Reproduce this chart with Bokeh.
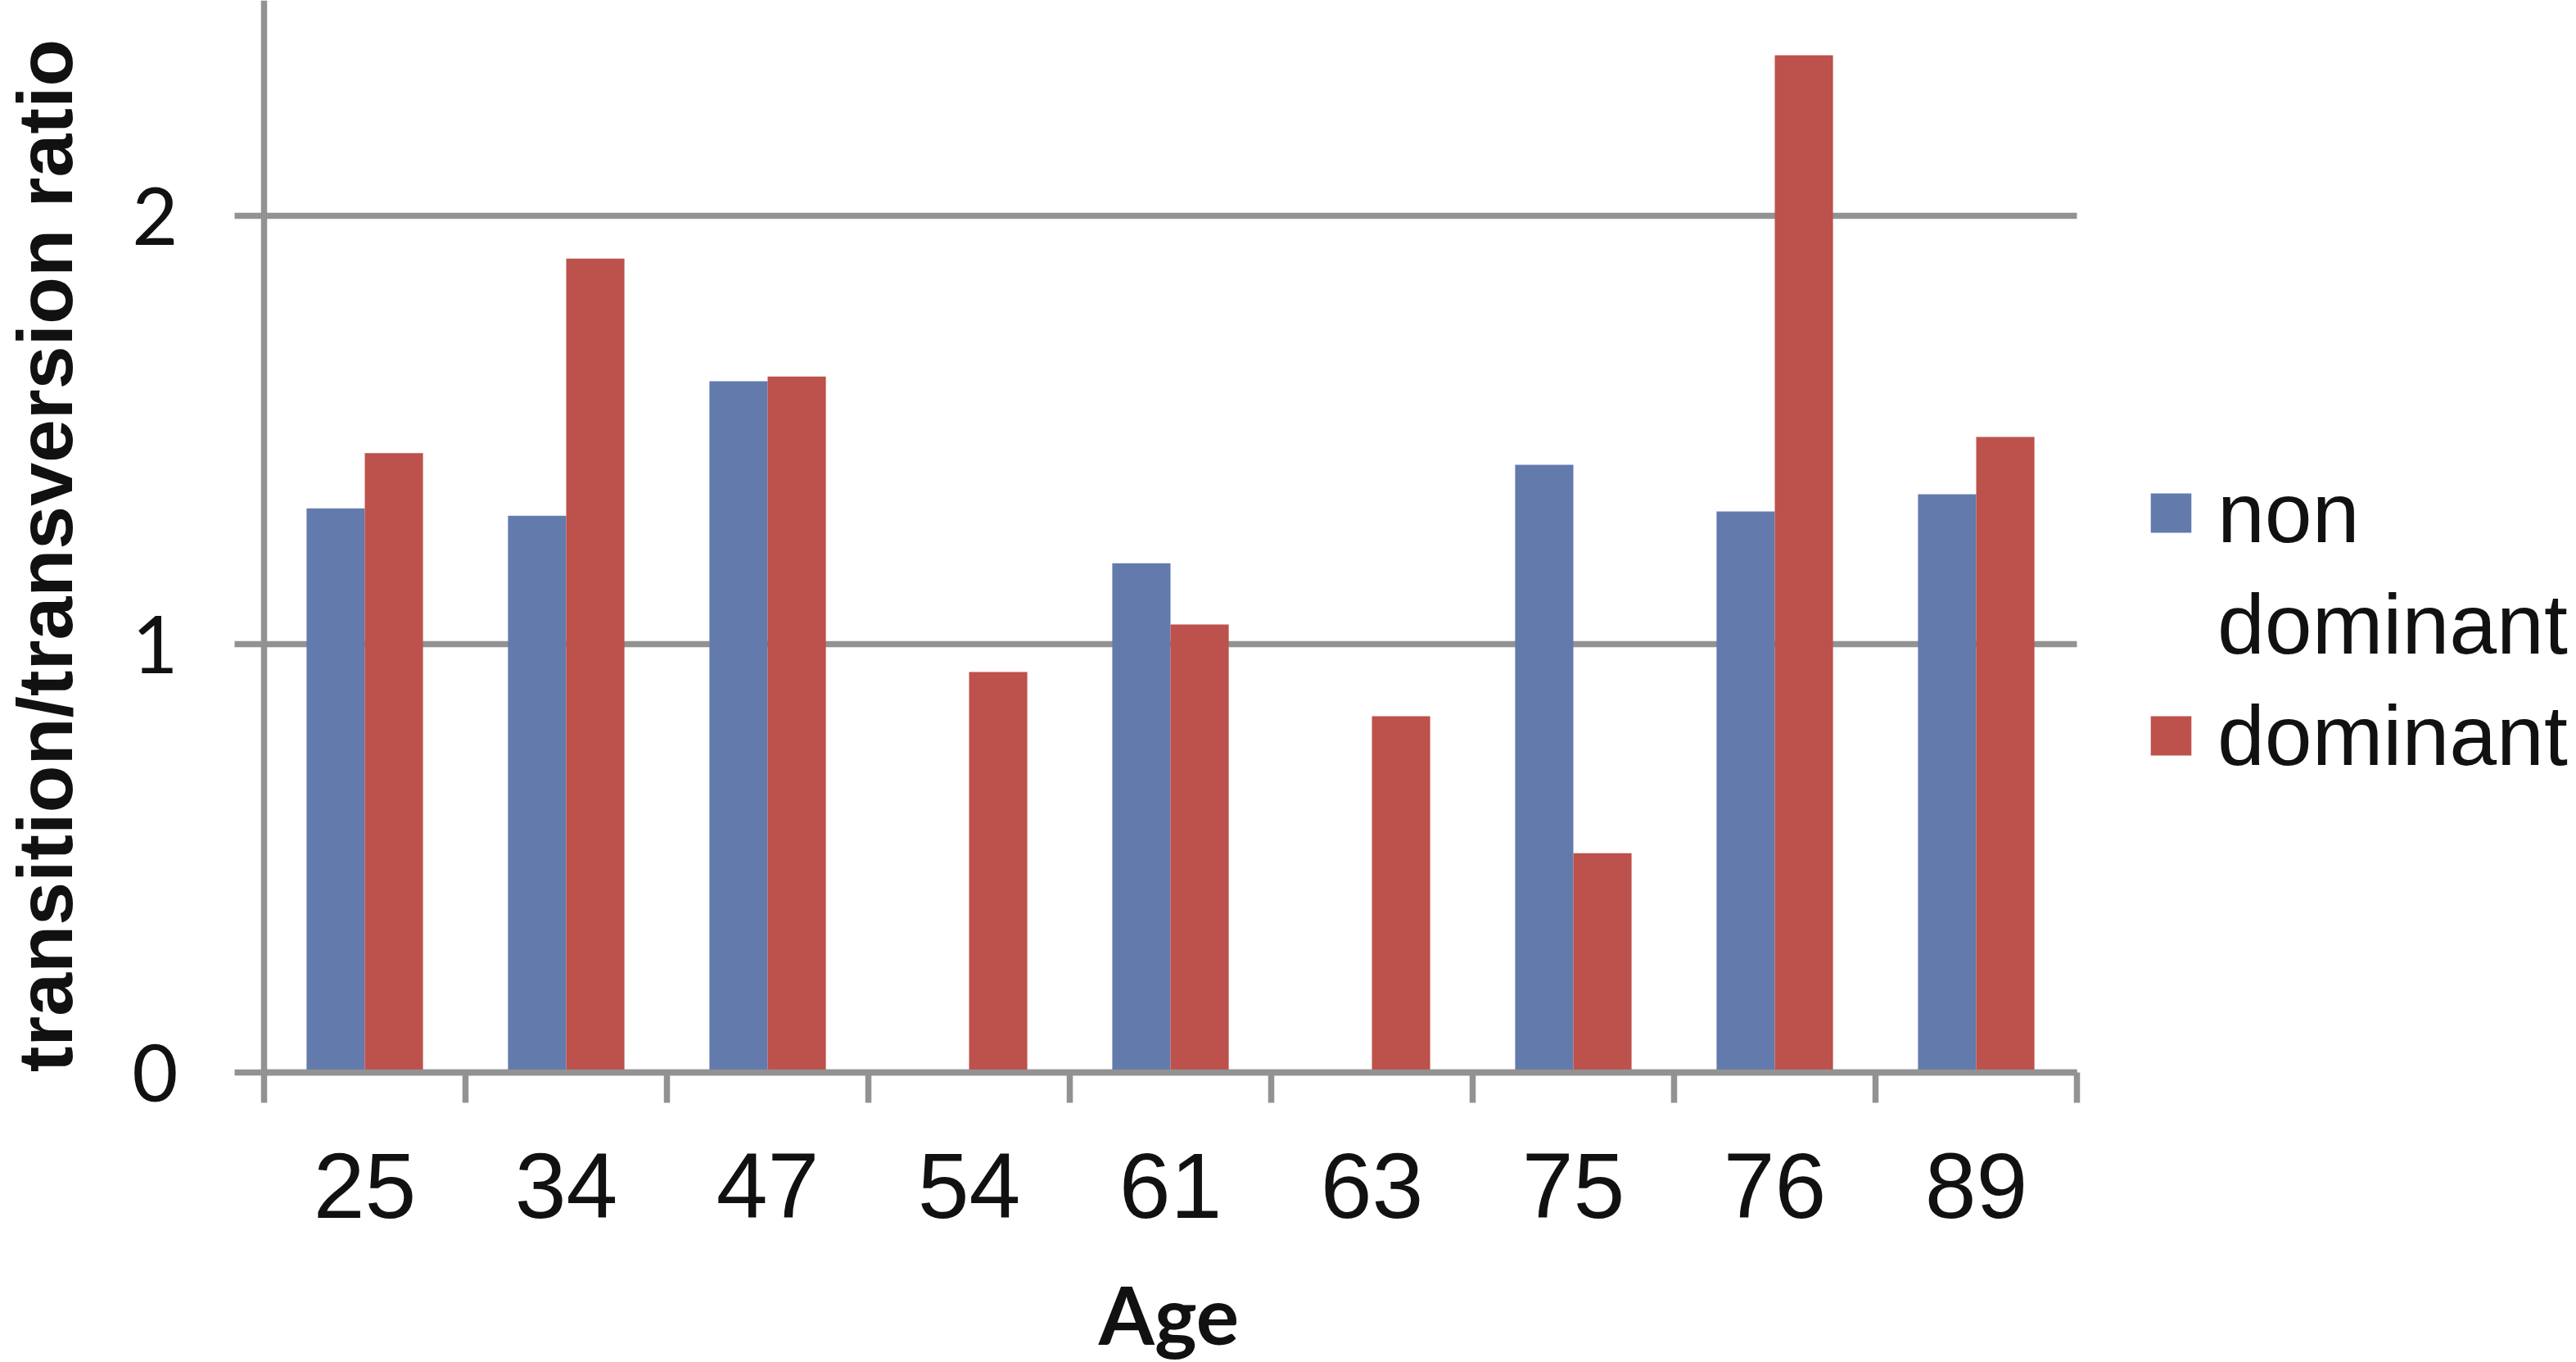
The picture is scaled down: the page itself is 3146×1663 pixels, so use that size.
import math
from bokeh.plotting import figure
from bokeh.models import (ColumnDataSource, FixedTicker, Range1d, Legend, LegendItem, Label)
from bokeh.transform import dodge
from bokeh.embed import file_html
from bokeh.resources import INLINE

ages = ["25", "34", "47", "54", "61", "63", "75", "76", "89"]
non_dominant = [1.317, 1.300, 1.614, 0.0, 1.189, 0.0, 1.419, 1.310, 1.350]
dominant = [1.446, 1.900, 1.625, 0.935, 1.046, 0.832, 0.512, 2.375, 1.484]
y_ticks = [0, 1, 2]
y_max = 2.503
series_names = ["non", "dominant", "dominant"]
x_title = "Age"
y_title = "transition/transversion ratio"

GRAY = "#929292"
BLUE = "#637aad"
RED = "#bd514b"
TXT = "#111111"

n = len(ages)
centers = [i + 0.5 for i in range(n)]
bounds = [float(i) for i in range(n + 1)]

# The frame fills the whole canvas; the axes sit at fixed locations inside it.
FIG_W, FIG_H = 3146, 1663
PLOT_L, PLOT_R, PLOT_T, PLOT_B = 322, 2536, 0, 1309   # pixel box of the data area
xs = n / (PLOT_R - PLOT_L)
ys = y_max / (PLOT_B - PLOT_T)
x_range = Range1d(-PLOT_L * xs, (FIG_W - PLOT_L) * xs)
y_range = Range1d(-(FIG_H - PLOT_B) * ys, y_max)

src = ColumnDataSource(data=dict(x=centers, age=ages, nd=non_dominant, d=dominant))
grid_src = ColumnDataSource(data=dict(y=y_ticks))

p = figure(width=FIG_W, height=FIG_H, output_backend="svg", toolbar_location=None,
           x_range=x_range, y_range=y_range,
           min_border_left=0, min_border_right=0, min_border_top=0, min_border_bottom=0)
p.outline_line_color = None
p.background_fill_color = "white"
p.border_fill_color = "white"
p.xgrid.visible = False
p.ygrid.visible = False

# horizontal gridlines across the category area only
p.segment(x0=0, x1=n, y0="y", y1="y", source=grid_src, line_color=GRAY, line_width=7.5)

bw = 0.289
r1 = p.vbar(x=dodge("x", -bw / 2, range=p.x_range), top="nd", width=bw, source=src,
            fill_color=BLUE, line_color=None)
r2 = p.vbar(x=dodge("x", bw / 2, range=p.x_range), top="d", width=bw, source=src,
            fill_color=RED, line_color=None)

# x axis: labels at centres, tick marks at category boundaries
xa = p.xaxis[0]
xa.fixed_location = 0
xa.bounds = (0, n)
xa.ticker = FixedTicker(ticks=centers, minor_ticks=bounds)
xa.major_label_overrides = {c: a for c, a in zip(centers, ages)}
xa.major_tick_line_color = None
xa.major_tick_out = 37
xa.major_tick_in = 0
xa.minor_tick_line_color = GRAY
xa.minor_tick_line_width = 7.5
xa.minor_tick_out = 37
xa.minor_tick_in = 0
xa.axis_line_color = GRAY
xa.axis_line_width = 7.5
xa.major_label_text_font = "Liberation Sans"
xa.major_label_text_font_size = "113px"
xa.major_label_text_color = TXT
xa.major_label_standoff = 62

ya = p.yaxis[0]
ya.fixed_location = 0
ya.bounds = (0, y_max)
ya.ticker = FixedTicker(ticks=y_ticks)
ya.major_tick_line_color = GRAY
ya.major_tick_line_width = 7.5
ya.major_tick_out = 36
ya.major_tick_in = 0
ya.minor_tick_line_color = None
ya.axis_line_color = GRAY
ya.axis_line_width = 7.5
ya.major_label_text_font = "Lato"
ya.major_label_text_font_size = "97px"
ya.major_label_text_color = TXT
ya.major_label_standoff = 69

# axis titles (screen units measured from the frame's bottom-left)
p.add_layout(Label(x=54, y=FIG_H - 678, x_units="screen", y_units="screen",
                   text=y_title, angle=math.pi / 2,
                   text_align="center", text_baseline="middle",
                   text_font="Liberation Sans", text_font_style="bold", text_font_size="95px",
                   text_color=TXT))
p.add_layout(Label(x=1427, y=60, x_units="screen", y_units="screen",
                   text=x_title, text_align="center", text_baseline="middle",
                   text_font="Lato", text_font_style="bold", text_font_size="98px",
                   text_color=TXT))

legend = Legend(items=[LegendItem(label=series_names[0], renderers=[r1]),
                       LegendItem(label=series_names[1], renderers=[]),
                       LegendItem(label=series_names[2], renderers=[r2])],
                location=(2620, FIG_H - 958), orientation="vertical",
                glyph_width=62, glyph_height=60, label_height=120, spacing=16,
                label_standoff=26, padding=0, margin=0,
                border_line_color=None, background_fill_alpha=0,
                label_text_font="Liberation Sans", label_text_font_size="104px",
                label_text_color=TXT)
p.add_layout(legend)

open("out.html", "w").write(file_html(p, INLINE))
